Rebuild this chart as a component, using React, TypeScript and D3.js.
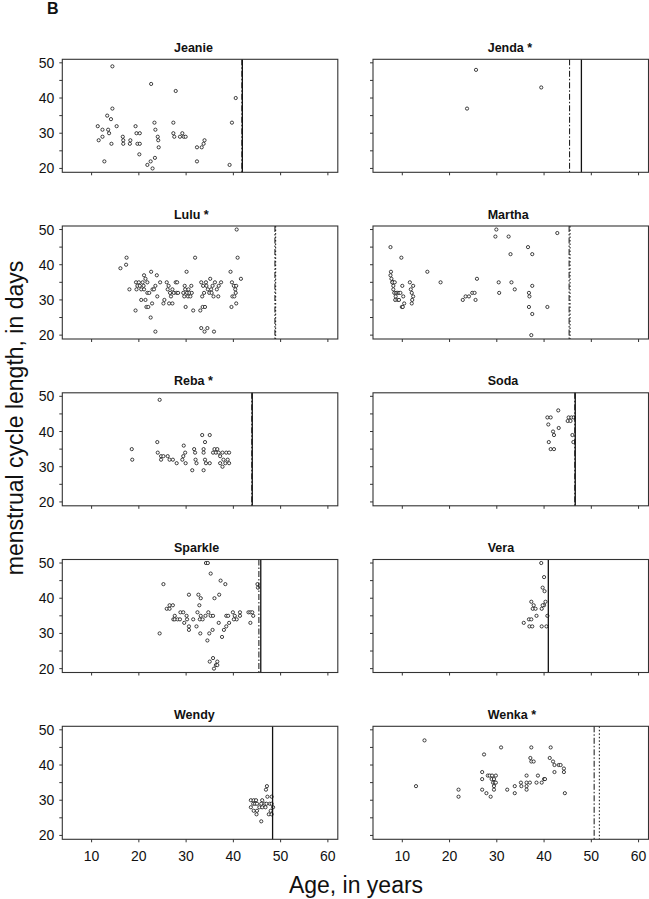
import React from "react";
import * as d3 from "d3";

const W = 649, H = 899;
const panelW = 275.5, panelH = 113;
const colX = [62.3, 373];
const rowY = [59.3, 226, 392.8, 559.5, 726.3];
const xDomain = [3.8, 62.1];
const yDomain = [18.9, 51];
const xTicks = [10, 20, 30, 40, 50, 60];
const yTicks = [20, 25, 30, 35, 40, 45, 50];
const yLabelTicks = [20, 30, 40, 50];

const names = ["Jeanie", "Jenda *", "Lulu *", "Martha", "Reba *", "Soda", "Sparkle", "Vera", "Wendy", "Wenka *"];
const solidLines = [41.9, 47.9, null, null, 44.0, 46.6, 45.8, 40.9, 48.3, null];
const dashDotLines = [41.8, 45.4, 48.8, 45.3, 43.9, 46.5, 45.4, null, null, 50.6];
const dottedLines = [null, null, 48.95, 45.5, null, null, null, null, null, 51.7];

const jeanie = [[14.4,49],[11.3,32],[11.5,28],[12.3,29],[12.3,31],[12.7,22],[13.3,35],[13.5,31],[13.7,30],[14.1,34],[14.4,37],[14.2,27],[15.3,32],[16.6,29],[16.7,28],[16.7,27],[18.1,27],[18.2,28],[19.3,32],[19.5,30],[20.2,30],[19.7,27],[20.2,27],[20.1,24],[21.8,21],[22.5,22],[22.6,44],[22.9,20],[23.3,33],[23.5,31],[23.4,23],[24.0,29],[24.1,28],[24.2,26],[27.3,33],[27.3,30],[27.5,29],[27.8,42],[28.7,29],[29.2,30],[29.5,29],[29.9,29],[32.3,26],[32.3,22],[33.3,26],[33.7,27],[33.9,28],[39.2,21],[39.7,33],[40.5,40]];
const jenda = [[25.6,48],[23.7,37],[39.4,43]];
const lulu = [[16.1,39],[17.3,40],[17.4,42],[18.0,33],[19.3,27],[19.4,35],[19.5,33],[19.7,34],[20.0,35],[20.2,34],[20.5,30],[20.5,33],[20.8,35],[21.0,34],[21.1,33],[21.1,37],[21.4,36],[21.4,30],[21.6,28],[21.8,35],[21.8,32],[22.0,28],[22.2,32],[22.5,25],[22.6,38],[22.8,29],[22.9,33],[23.2,33],[23.5,34],[23.8,37],[23.9,31],[24.5,35],[25.2,29],[25.4,30],[25.9,35],[26.1,33],[26.3,34],[26.6,32],[26.4,29],[27.1,29],[26.8,31],[27.1,33],[27.4,32],[27.8,35],[28.1,35],[28.0,32],[28.3,32],[29.4,32],[29.6,31],[29.7,34],[29.8,33],[29.9,28],[30.1,38],[30.2,32],[30.4,31],[30.5,33],[30.7,32],[30.9,31],[31.1,34],[31.2,32],[31.5,27],[31.9,42],[33.0,27],[33.2,35],[33.4,31],[33.5,28],[33.6,34],[33.8,32],[34.0,28],[34.2,35],[34.3,34],[34.6,33],[34.9,32],[35.1,36],[35.3,33],[35.4,32],[35.6,34],[35.8,31],[36.1,35],[36.5,33],[36.8,31],[36.9,34],[37.4,35],[39.4,38],[39.6,28],[39.7,35],[39.8,31],[40.2,31],[40.1,34],[40.4,33],[40.5,32],[40.6,29],[40.7,50],[40.9,42],[40.6,34],[41.6,36],[23.5,21],[33.2,22],[33.9,21],[34.5,22],[35.9,21]];
const martha = [[29.9,50],[29.7,48],[32.5,48],[42.8,49],[7.5,45],[36.6,45],[32.9,43],[37.5,43],[9.8,42],[7.6,38],[7.5,37],[7.7,36],[7.9,35],[8.1,35],[7.9,35],[8.1,34],[8.4,35],[8.1,33],[8.3,32],[8.6,31],[8.7,32],[9.0,32],[9.3,32],[9.6,32],[8.5,30],[9.0,30],[9.3,30],[10.0,34],[10.2,31],[9.9,28],[10.1,28],[10.4,29],[11.6,35],[12.3,34],[11.8,33],[12.0,32],[12.3,31],[12.1,30],[12.0,29],[15.3,38],[18.1,35],[22.8,30],[23.4,31],[24.1,31],[24.8,32],[25.3,32],[25.5,30],[25.8,36],[30.4,35],[30.5,32],[33.1,35],[33.8,33],[36.8,32],[36.9,31],[37.5,34],[36.8,28],[40.7,28],[37.5,26],[37.3,20]];
const reba = [[24.4,49],[18.5,35],[18.6,32],[23.9,37],[24.0,34],[24.7,33],[24.7,32],[25.2,33],[26.1,33],[26.5,32],[27.2,32],[28.0,31],[29.2,32],[29.5,36],[29.4,33],[29.8,34],[29.9,31],[31.7,35],[31.9,34],[32.0,32],[32.2,31],[33.4,39],[34.0,37],[33.7,35],[33.7,34],[34.0,32],[34.2,31],[35.0,39],[35.0,31],[35.7,34],[36.0,35],[36.3,34],[36.6,35],[36.9,34],[37.2,33],[37.2,31],[37.7,34],[37.9,32],[38.3,31],[38.5,34],[38.8,32],[39.1,34],[39.1,31],[31.3,29],[33.7,29],[37.7,30]];
const soda = [[43.0,46],[40.7,44],[41.4,44],[40.9,42],[43.1,41],[41.9,40],[42.1,39],[45.2,44],[45.8,44],[46.3,44],[45.0,43],[45.6,43],[46.0,39],[46.2,37],[41.0,37],[41.4,35],[42.1,35]];
const sparkle = [[25.2,44],[30.6,41],[32.6,41],[33.1,40],[34.2,50],[34.6,50],[35.2,47],[36.0,40],[37.0,41],[37.3,45],[38.3,44],[45.1,44],[45.2,43],[24.4,30],[25.9,37],[26.5,37],[26.5,38],[27.2,38],[27.3,34],[27.6,34],[28.2,34],[28.7,34],[27.6,35],[28.8,36],[29.4,36],[29.6,33],[30.1,35],[30.2,34],[30.6,32],[30.6,31],[31.5,34],[32.2,32],[32.4,36],[32.9,34],[33.0,30],[33.1,35],[33.5,34],[32.8,38],[34.1,35],[34.5,28],[34.7,36],[34.9,30],[35.2,35],[35.7,35],[35.6,31],[35.0,22],[35.7,23],[36.6,22],[36.3,21],[35.9,20],[36.6,21],[36.9,33],[37.6,29],[38.0,31],[38.5,32],[39.1,33],[38.5,35],[38.9,35],[39.9,36],[40.3,35],[40.7,34],[40.1,34],[41.4,36],[41.4,35],[43.2,36],[43.6,36],[43.6,33],[44.0,36],[44.2,35]];
const vera = [[39.4,50],[40.0,46],[39.7,43],[40.1,42],[37.3,39],[37.8,38],[40.3,39],[40.0,38],[37.6,37],[38.2,37],[39.5,37],[39.7,38],[38.4,35],[36.8,34],[37.3,34],[35.7,33],[40.7,35],[36.9,32],[37.5,32],[39.5,32],[40.5,32]];
const wendy = [[47.1,34],[46.9,33],[43.7,30],[44.3,30],[44.8,30],[46.1,30],[47.2,31],[48.1,31],[43.7,28],[44.2,29],[44.6,29],[45.0,29],[44.3,27],[45.0,27],[44.9,26],[45.5,28],[46.1,28],[46.6,29],[47.0,29],[45.9,24],[47.7,29],[48.1,29],[47.5,26],[48.1,26],[47.9,27],[48.4,28],[45.9,29],[46.8,28]];
const wenka = [[14.7,47],[30.9,45],[37.3,45],[41.4,45],[27.3,43],[37.1,42],[37.3,41],[41.2,42],[41.9,41],[43.1,40],[12.9,34],[21.9,33],[21.9,31],[26.9,38],[26.9,36],[26.9,33],[28.1,37],[28.5,37],[27.8,32],[28.7,31],[28.9,36],[29.4,36],[29.2,35],[29.6,35],[29.8,35],[29.0,37],[29.8,37],[29.4,34],[29.4,33],[32.2,33],[33.8,34],[33.8,32],[35.1,35],[35.2,34],[36.3,37],[36.3,35],[36.3,34],[36.3,33],[37.0,35],[37.8,41],[38.4,35],[38.7,37],[39.5,35],[40.0,36],[40.2,36],[42.2,40],[42.2,38],[43.5,40],[44.2,39],[44.2,38],[44.4,32]];

const panelData = [jeanie, jenda, lulu, martha, reba, soda, sparkle, vera, wendy, wenka];

const FONT = "'Liberation Sans', Arial, Helvetica, sans-serif";

function Panel({ idx }: { idx: number }) {
  const col = idx % 2, row = Math.floor(idx / 2);
  const x0 = colX[col], y0 = rowY[row];
  const x = d3.scaleLinear().domain(xDomain).range([0, panelW]);
  const y = d3.scaleLinear().domain(yDomain).range([panelH, 0]);
  const pts = panelData[idx];
  const vline = (age: number | null, dash: string | undefined, key: string, w = 1.2) =>
    age == null ? null : (
      <line key={key} x1={x(age)} x2={x(age)} y1={0} y2={panelH} stroke="#111" strokeWidth={w} strokeDasharray={dash} />
    );
  return (
    <g transform={`translate(${x0},${y0})`}>
      <text x={col === 0 ? 111.7 : 114.7} y={-7.5} fontFamily={FONT} fontWeight="bold" fontSize={12.5} fill="#111">{names[idx]}</text>
      {pts.map((p, i) => (
        <circle key={i} cx={x(p[0])} cy={y(p[1])} r={1.6} fill="white" stroke="#111" strokeWidth={0.8} />
      ))}
      {vline(dashDotLines[idx], "6,2,1.5,2", "dd", 1)}
      {vline(dottedLines[idx], "1.5,2", "dt", 1)}
      {vline(solidLines[idx], undefined, "s", 1.3)}
      <rect x={0} y={0} width={panelW} height={panelH} fill="none" stroke="#333" strokeWidth={1.1} />
      {yTicks.map((t) => (
        <line key={"yt" + t} x1={-3} x2={0} y1={y(t)} y2={y(t)} stroke="#333" strokeWidth={1} />
      ))}
      {col === 0 && yLabelTicks.map((t) => (
        <text key={"yl" + t} x={-8} y={y(t)} dy="0.36em" textAnchor="end" fontFamily={FONT} fontSize={14} fill="#111">{t}</text>
      ))}
      {xTicks.map((t) => (
        <line key={"xt" + t} x1={x(t)} x2={x(t)} y1={panelH} y2={panelH + 3} stroke="#333" strokeWidth={1} />
      ))}
      {row === 4 && xTicks.map((t) => (
        <text key={"xl" + t} x={x(t)} y={panelH + 22} textAnchor="middle" fontFamily={FONT} fontSize={14} fill="#111">{t}</text>
      ))}
    </g>
  );
}

export default function App() {
  return (
    <svg width={W} height={H} style={{ position: "absolute", left: 0, top: 0, background: "white" }}>
      <rect x={0} y={0} width={W} height={H} fill="white" />
      <text x={47} y={13.5} fontFamily={FONT} fontWeight="bold" fontSize={16} fill="#111">B</text>
      {names.map((_, i) => <Panel key={i} idx={i} />)}
      <text transform={`translate(23,418) rotate(-90)`} textAnchor="middle" fontFamily={FONT} fontSize={23} fill="#111">menstrual cycle length, in days</text>
      <text x={356} y={893} textAnchor="middle" fontFamily={FONT} fontSize={23} fill="#111">Age, in years</text>
    </svg>
  );
}
